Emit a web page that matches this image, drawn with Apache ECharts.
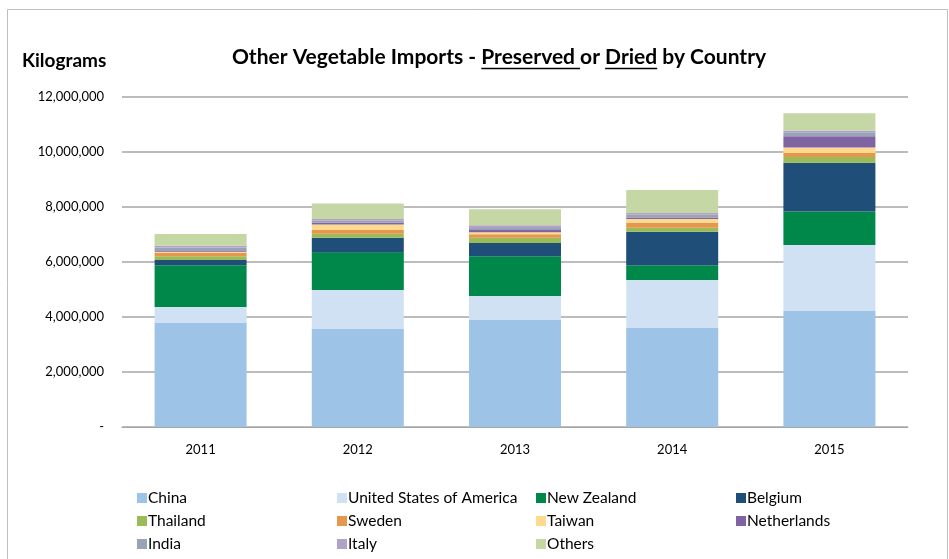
<!DOCTYPE html>
<html>
<head>
<meta charset="utf-8">
<script src="https://cdn.jsdelivr.net/npm/echarts@6/dist/echarts.min.js"></script>
<style>
  html, body { margin: 0; padding: 0; background: #fff; }
  #main { width: 949px; height: 559px; }
</style>
</head>
<body>
<div id="main"></div>
<script>
// years along the x axis
var years = ['2011', '2012', '2013', '2014', '2015'];
var yTicks = [0, 2000000, 4000000, 6000000, 8000000, 10000000, 12000000];

// kilograms per country
var china       = [3780000, 3560000, 3890000, 3600000, 4220000];
var usa         = [ 580000, 1420000,  870000, 1750000, 2400000];
var newZealand  = [1520000, 1370000, 1450000,  530000, 1220000];
var belgium     = [ 190000,  530000,  480000, 1220000, 1770000];
var thailand    = [ 140000,  150000,  190000,  150000,  210000];
var sweden      = [ 130000,  130000,  130000,  180000,  140000];
var taiwan      = [  30000,  200000,   70000,  130000,  200000];
var netherlands = [  30000,   80000,   80000,   60000,  410000];
var india       = [ 130000,   60000,   80000,  100000,  150000];
var italy       = [  60000,   60000,  100000,   60000,   60000];
var others      = [ 430000,  570000,  580000,  840000,  630000];

var seriesDefs = [
    ['China', china, '#9DC3E6'],
    ['United States of America', usa, '#D0E1F4'],
    ['New Zealand', newZealand, '#00884A'],
    ['Belgium', belgium, '#1F4E79'],
    ['Thailand', thailand, '#9BBB59'],
    ['Sweden', sweden, '#E5984D'],
    ['Taiwan', taiwan, '#FFD98E'],
    ['Netherlands', netherlands, '#8064A2'],
    ['India', india, '#97A3B6'],
    ['Italy', italy, '#B3A2C7'],
    ['Others', others, '#C4D7A5']
];

var font = 'Lato, "Open Sans", sans-serif';
var myChart = echarts.init(document.getElementById('main'));

var series = [];
for (var i = 0; i < seriesDefs.length; i++) {
    series.push({
        name: seriesDefs[i][0],
        type: 'bar',
        stack: 'total',
        barWidth: 92,
        itemStyle: { color: seriesDefs[i][2] },
        data: seriesDefs[i][1]
    });
}

// legend laid out in 4 columns x 3 rows, one legend per entry
var colX = [137, 337, 536, 736];
var rowY = [490, 513, 536];
var legends = [];
for (var j = 0; j < seriesDefs.length; j++) {
    legends.push({
        left: colX[j % 4],
        top: rowY[Math.floor(j / 4)],
        padding: 0,
        itemWidth: 10,
        itemHeight: 10,
        icon: 'rect',
        selectedMode: false,
        data: [seriesDefs[j][0]],
        textStyle: { fontFamily: font, fontSize: 15.5, color: '#000', padding: [0, 0, 0, -4] }
    });
}

// title pieces, measured so the underlines sit under the words
var titleFont = 'bold 21px ' + font;
var ctx = document.createElement('canvas').getContext('2d');
ctx.font = titleFont;
var parts = ['Other Vegetable Imports - ', 'Preserved ', 'or ', 'Dried', ' by Country'];
var widths = parts.map(function (p) { return ctx.measureText(p).width; });
var total = widths.reduce(function (a, b) { return a + b; }, 0);
var titleX = 499 - total / 2;
var titleY = 57;
var graphics = [
    { type: 'rect', shape: { x: 7.5, y: 9.5, width: 940, height: 560 },
      style: { fill: null, stroke: '#BFBFBF', lineWidth: 1 }, silent: true },
    { type: 'text', left: 22, top: 51,
      style: { text: 'Kilograms', font: 'bold 19px ' + font, fill: '#000' } }
];
var x = titleX;
for (var k = 0; k < parts.length; k++) {
    graphics.push({ type: 'text', x: x, y: titleY,
        style: { text: parts[k], font: titleFont, fill: '#000', textVerticalAlign: 'middle' } });
    if (k === 1 || k === 3) {
        graphics.push({ type: 'line',
            shape: { x1: x, y1: titleY + 11.5, x2: x + widths[k], y2: titleY + 11.5 },
            style: { stroke: '#000', lineWidth: 1.5 } });
    }
    x += widths[k];
}

var option = {
    animation: false,
    grid: { left: 122, right: 41, top: 97, bottom: 132 },
    legend: legends,
    graphic: graphics,
    xAxis: {
        type: 'category',
        data: years,
        axisLine: { lineStyle: { color: '#A6A6A6', width: 1 } },
        axisTick: { show: false },
        axisLabel: { fontFamily: font, fontSize: 13, color: '#000', margin: 16 }
    },
    yAxis: {
        type: 'value',
        min: yTicks[0],
        max: yTicks[yTicks.length - 1],
        interval: 2000000,
        axisLine: { show: false },
        axisTick: { show: false },
        splitLine: { lineStyle: { color: '#A6A6A6', width: 1.5 } },
        axisLabel: {
            fontFamily: font, fontSize: 13, color: '#000', margin: 18,
            formatter: function (v) {
                return v === 0 ? '-' : echarts.format.addCommas(v);
            }
        }
    },
    series: series
};

myChart.setOption(option);
</script>
</body>
</html>
